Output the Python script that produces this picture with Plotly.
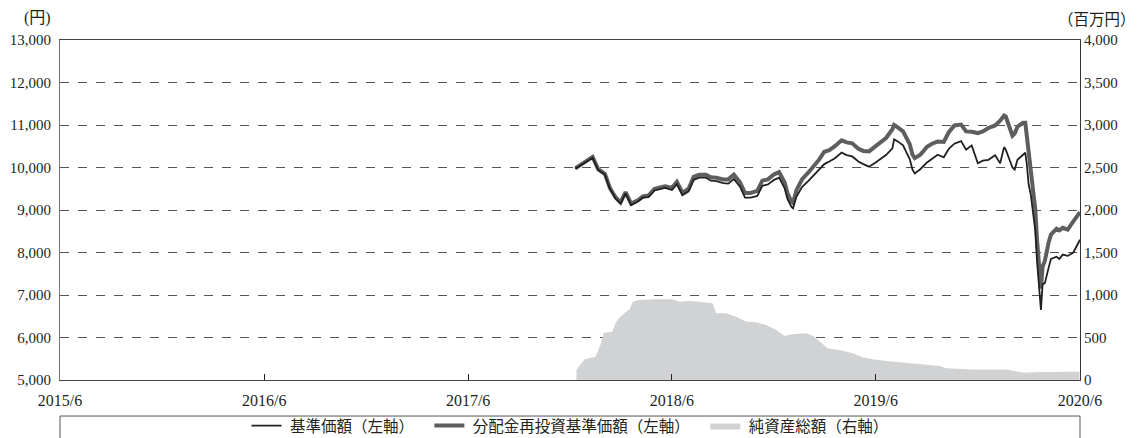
import plotly.graph_objects as go

# ---- data ----
line_dates = [
    "2017-12-10", "2017-12-20", "2018-01-01", "2018-01-10", "2018-01-20", "2018-02-01", "2018-02-10", "2018-02-20",
    "2018-03-01", "2018-03-10", "2018-03-20", "2018-04-01", "2018-04-10", "2018-04-20", "2018-05-01", "2018-05-10",
    "2018-05-20", "2018-06-01", "2018-06-10", "2018-06-20", "2018-07-01", "2018-07-10", "2018-07-20", "2018-08-01",
    "2018-08-10", "2018-08-20", "2018-09-01", "2018-09-10", "2018-09-20", "2018-10-01", "2018-10-10", "2018-10-20",
    "2018-11-01", "2018-11-10", "2018-11-20", "2018-12-01", "2018-12-10", "2018-12-20", "2018-12-25", "2019-01-01",
    "2019-01-04", "2019-01-10", "2019-01-20", "2019-02-01", "2019-02-10", "2019-02-20", "2019-03-01", "2019-03-10",
    "2019-03-20", "2019-04-01", "2019-04-10", "2019-04-20", "2019-05-01", "2019-05-10", "2019-05-20", "2019-06-01",
    "2019-06-10", "2019-06-20", "2019-07-01", "2019-07-04", "2019-07-10", "2019-07-20", "2019-08-01", "2019-08-06",
    "2019-08-10", "2019-08-20", "2019-09-01", "2019-09-10", "2019-09-20", "2019-10-01", "2019-10-10", "2019-10-20",
    "2019-11-01", "2019-11-10", "2019-11-20", "2019-12-01", "2019-12-10", "2019-12-20", "2020-01-01", "2020-01-10",
    "2020-01-17", "2020-01-20", "2020-02-01", "2020-02-05", "2020-02-10", "2020-02-20", "2020-02-24", "2020-02-27",
    "2020-03-01", "2020-03-05", "2020-03-10", "2020-03-13", "2020-03-16", "2020-03-19", "2020-03-23", "2020-03-26",
    "2020-03-30", "2020-04-06", "2020-04-10", "2020-04-20", "2020-04-25", "2020-05-01", "2020-05-10", "2020-05-20",
    "2020-05-27", "2020-06-01",
]

reinvested_nav = [
    9980, 10070, 10180, 10250, 9960, 9850, 9520, 9300,
    9180, 9420, 9150, 9230, 9320, 9340, 9500, 9520,
    9560, 9520, 9660, 9400, 9500, 9780, 9830, 9830,
    9770, 9760, 9720, 9720, 9830, 9650, 9400, 9400,
    9450, 9690, 9720, 9840, 9890, 9650, 9400, 9200,
    9170, 9460, 9720, 9890, 10020, 10190, 10370, 10410,
    10500, 10640, 10590, 10570, 10440, 10390, 10380, 10500,
    10590, 10700, 10900, 11000, 10950, 10850, 10550, 10300,
    10220, 10300, 10490, 10560, 10610, 10600, 10830, 10990,
    11010, 10850, 10840, 10810, 10850, 10930, 10990, 11100,
    11220, 11200, 10750, 10800, 10960, 11050, 11050, 10700,
    10250, 9900, 9300, 9000, 8300, 7700, 7150, 7670,
    7800, 8250, 8420, 8560, 8520, 8580, 8540, 8730,
    8880, 8950,
]

nav = [
    9970, 10050, 10160, 10230, 9940, 9830, 9500, 9270,
    9150, 9390, 9110, 9200, 9290, 9300, 9460, 9480,
    9520, 9470, 9610, 9350, 9440, 9710, 9760, 9760,
    9690, 9680, 9630, 9620, 9730, 9550, 9290, 9290,
    9330, 9570, 9600, 9710, 9760, 9510, 9260, 9080,
    9040, 9310, 9540, 9690, 9810, 9960, 10080, 10140,
    10220, 10350, 10290, 10260, 10140, 10080, 10020, 10120,
    10200, 10300, 10450, 10660, 10620, 10520, 10200, 9950,
    9860, 9960, 10120, 10200, 10300, 10240, 10440, 10560,
    10620, 10420, 10520, 10100, 10160, 10180, 10290, 10100,
    10480, 10420, 10000, 9950, 10180, 10300, 10350, 10050,
    9600, 9350, 8850, 8500, 7800, 7200, 6650, 7250,
    7280, 7650, 7850, 7900, 7850, 7950, 7920, 8000,
    8180, 8300,
]

asset_dates = [
    "2017-12-12", "2017-12-14", "2017-12-27", "2018-01-15", "2018-01-24", "2018-01-30", "2018-02-14",
    "2018-02-20", "2018-02-26", "2018-03-11", "2018-03-17", "2018-03-23", "2018-04-03", "2018-05-03",
    "2018-06-02", "2018-06-14", "2018-07-02", "2018-07-20", "2018-08-13", "2018-08-19", "2018-09-06",
    "2018-09-24", "2018-10-12", "2018-10-30", "2018-11-17", "2018-12-05", "2018-12-20", "2019-01-04",
    "2019-01-28", "2019-02-09", "2019-02-21", "2019-03-07", "2019-03-28", "2019-04-21", "2019-05-08",
    "2019-05-26", "2019-06-20", "2019-07-26", "2019-08-25", "2019-09-24", "2019-10-05", "2019-11-22",
    "2020-01-21", "2020-02-02", "2020-02-20", "2020-03-21", "2020-04-26", "2020-05-31",
]
net_assets = [
    120, 137, 243, 275, 412, 557, 569,
    667, 726, 804, 830, 922, 941, 950,
    949, 922, 930, 922, 902, 784, 784,
    745, 686, 680, 647, 588, 518, 541,
    549, 518, 451, 373, 353, 314, 267,
    243, 223, 204, 188, 165, 137, 125,
    125, 110, 86, 94, 98, 98,
]

x_tick_vals = ["2015-06-01", "2016-06-01", "2017-06-01", "2018-06-01", "2019-06-01", "2020-06-01"]
x_tick_text = ["2015/6", "2016/6", "2017/6", "2018/6", "2019/6", "2020/6"]

LEAD = "\u00a0"
GAP = "\u00a0\u00a0\u00a0"
name_nav = LEAD + "基準価額（左軸）" + GAP
name_reinv = LEAD + "分配金再投資基準価額（左軸）" + GAP
name_assets = LEAD + "純資産総額（右軸）"

NUM_FONT = "Liberation Serif, Noto Sans CJK JP, serif"
JP_FONT = "Noto Sans CJK JP, Liberation Serif, sans-serif"
INK = "#231f20"

fig = go.Figure()

fig.add_trace(go.Scatter(
    x=asset_dates, y=net_assets, name=name_assets, yaxis="y",
    mode="lines", fill="tozeroy", fillcolor="#d1d2d4",
    line=dict(width=0, color="#d1d2d4"), legendrank=3,
))
fig.add_trace(go.Scatter(
    x=line_dates, y=reinvested_nav, name=name_reinv, yaxis="y2",
    mode="lines", line=dict(width=4, color="#5e5e5e"), legendrank=2,
))
fig.add_trace(go.Scatter(
    x=line_dates, y=nav, name=name_nav, yaxis="y2",
    mode="lines", line=dict(width=1.8, color=INK), legendrank=1,
))

# The page body adds an 8px offset; margins place the plot at 60..1080 x 40..380 in the window.
fig.update_layout(
    width=1148, height=438,
    margin=dict(l=52, r=76, t=32, b=66, autoexpand=False),
    paper_bgcolor="white", plot_bgcolor="white",
    showlegend=True,
    legend=dict(
        orientation="h", x=0.5, xanchor="center", y=-0.1353, yanchor="middle",
        font=dict(family=JP_FONT, size=15.5, color=INK),
        bgcolor="rgba(0,0,0,0)", itemwidth=30,
    ),
    xaxis=dict(
        type="date", range=["2015-06-01", "2020-06-01"],
        tickvals=x_tick_vals, ticktext=x_tick_text,
        ticks="inside", ticklen=6, tickcolor=INK, tickwidth=1,
        showgrid=False, zeroline=False,
        showline=True, linecolor="#444", linewidth=1.2, mirror=True,
        tickfont=dict(family=NUM_FONT, size=16, color=INK),
        ticklabelstandoff=6, automargin=False,
    ),
    yaxis=dict(
        side="right", range=[0, 4000], dtick=500, tickformat=",",
        showgrid=True, gridcolor="#555", griddash="dash", gridwidth=1,
        zeroline=False, showline=True, linecolor="#333", linewidth=1.2,
        ticks="", tickfont=dict(family=NUM_FONT, size=15, color=INK),
        automargin=False,
    ),
    yaxis2=dict(
        side="left", overlaying="y", range=[5000, 13000], dtick=1000, tickformat=",",
        showgrid=False, zeroline=False, showline=True, linecolor="#777", linewidth=1.2,
        ticks="", tickfont=dict(family=NUM_FONT, size=15, color=INK),
        ticklabelstandoff=5, automargin=False,
    ),
    annotations=[
        dict(text="(円)", xref="paper", yref="paper", x=-0.022, y=1.064,
             xanchor="center", yanchor="middle", showarrow=False,
             font=dict(family=NUM_FONT, size=16, color=INK)),
        dict(text="（百万円）", xref="paper", yref="paper", x=1.0565, y=1.064,
             xanchor="right", yanchor="middle", showarrow=False,
             font=dict(family=JP_FONT, size=15.5, color=INK)),
    ],
    shapes=[
        dict(type="rect", xref="paper", yref="paper", x0=0, x1=1.0, y0=-0.106, y1=-0.5,
             line=dict(color="#555", width=1), fillcolor="rgba(0,0,0,0)", layer="above"),
    ],
)

fig.write_html("out.html")
